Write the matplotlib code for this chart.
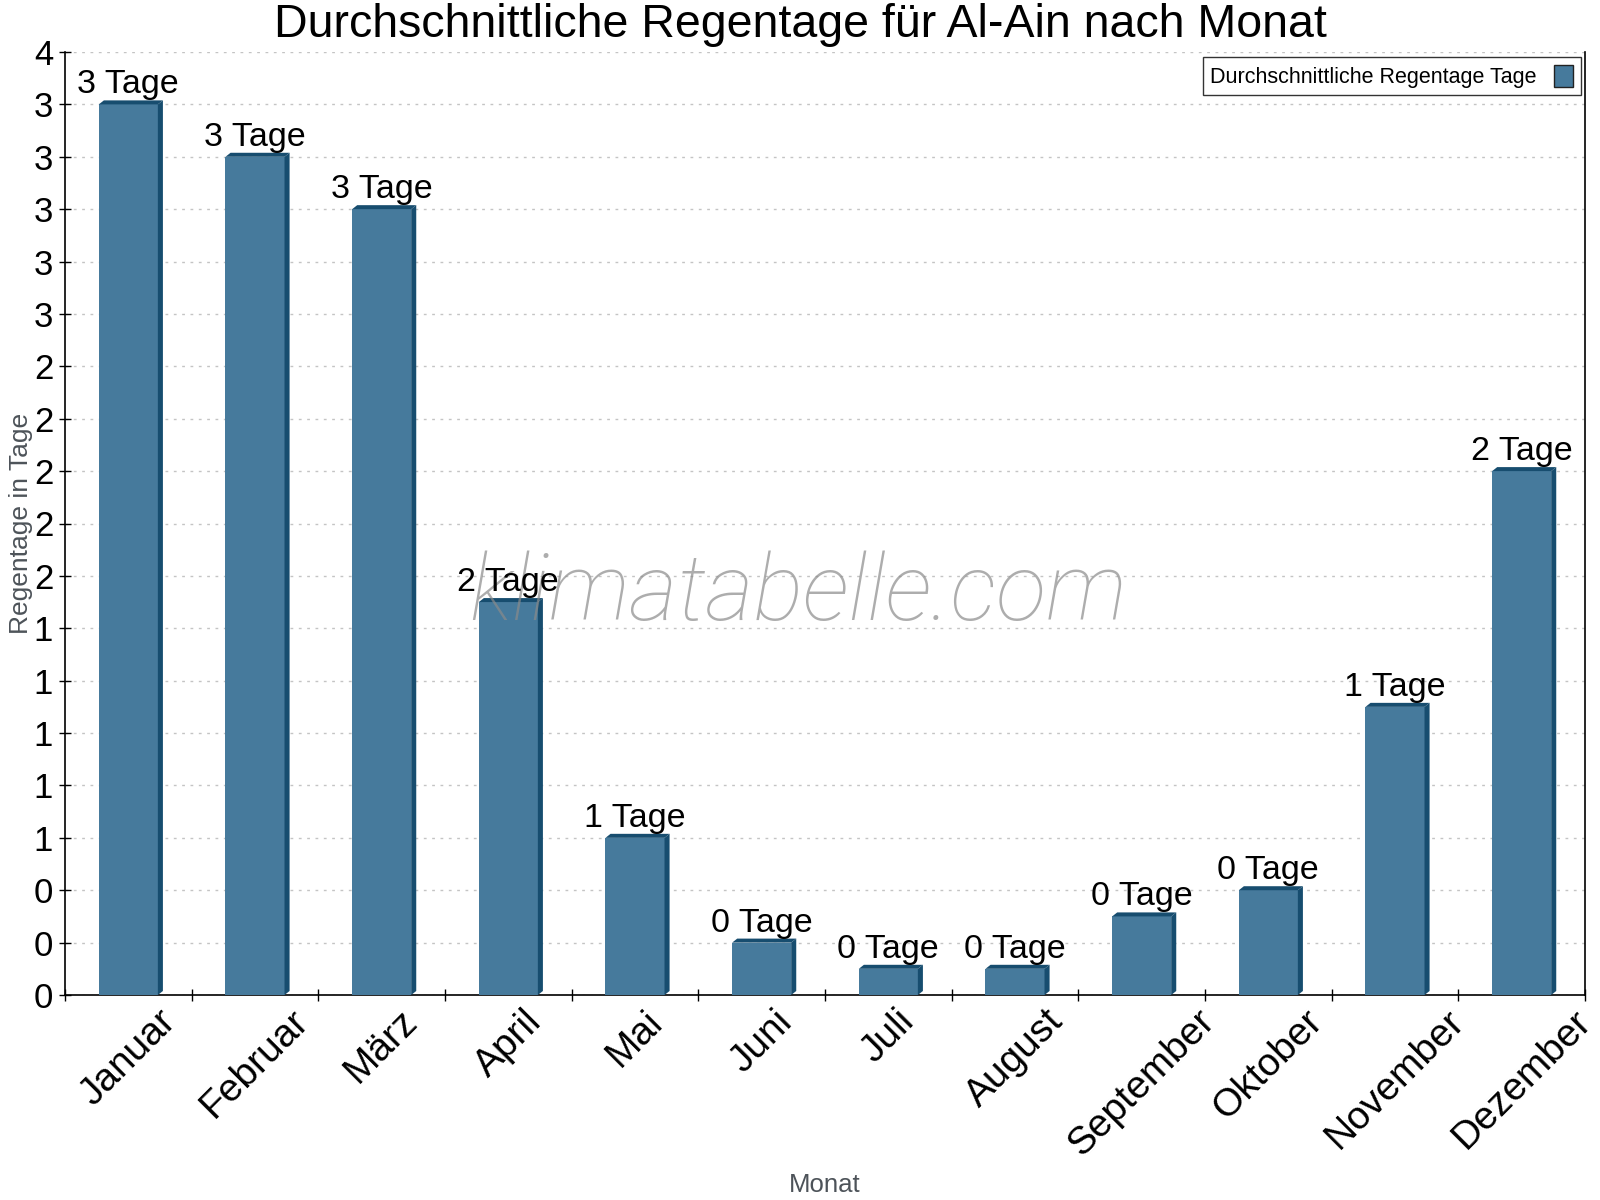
import numpy as np
import matplotlib
matplotlib.use('Agg')
import matplotlib.pyplot as plt
from matplotlib.patches import Polygon
from matplotlib.ticker import MultipleLocator, FuncFormatter

plt.rcParams['font.family'] = ['Liberation Sans', 'DejaVu Sans']

# Daten
monate = ['Januar', 'Februar', 'März', 'April', 'Mai', 'Juni', 'Juli',
          'August', 'September', 'Oktober', 'November', 'Dezember']
regentage = [3.4, 3.2, 3.0, 1.5, 0.6, 0.2, 0.1, 0.1, 0.3, 0.4, 1.1, 2.0]
legend_label = 'Durchschnittliche Regentage Tage'

front_color = '#467a9c'
side_color = '#174d6f'

fig = plt.figure(figsize=(16, 12), dpi=100)
ax = fig.add_axes([65 / 1600, 1 - 995 / 1200, 1520 / 1600, 943 / 1200])

ax.set_xlim(-0.5, len(monate) - 0.5)
ax.set_ylim(0, 3.6)

w = 0.466
dx = 0.04
dy = 0.0153

x = np.arange(len(monate))
bars = ax.bar(x, regentage, width=w, color=front_color, zorder=3, label=legend_label,
              edgecolor='none')

for xi, v in zip(x, regentage):
    x0 = xi - w / 2
    x1 = xi + w / 2
    side = Polygon([(x1, 0), (x1 + dx, dy), (x1 + dx, v + dy), (x1, v)],
                   closed=True, facecolor=side_color, edgecolor='none', zorder=3)
    top = Polygon([(x0, v), (x0 + dx, v + dy), (x1 + dx, v + dy), (x1, v)],
                  closed=True, facecolor=side_color, edgecolor='none', zorder=3)
    ax.add_patch(side)
    ax.add_patch(top)
    ax.annotate(f'{v:.0f} Tage', (xi, v + dy), xytext=(0, 0),
                textcoords='offset points', ha='center', va='bottom',
                fontsize=24.5, color='black', zorder=6)

# Wasserzeichen
ax.text(0.482, 0.424, 'klimatabelle.com', transform=ax.transAxes, ha='center', va='center',
        fontsize=67, color='#8a8a8a', alpha=0.7, family=['Roboto', 'DejaVu Sans'],
        style='italic', weight='light', zorder=5)

# Achsen
ax.yaxis.set_major_locator(MultipleLocator(0.2))
ax.yaxis.set_major_formatter(FuncFormatter(lambda v, p: f'{v:.0f}'))
ax.grid(axis='y', color='#c4c4c4', linestyle=(0, (2, 4)), linewidth=1, zorder=0)
ax.set_axisbelow(True)

ax.set_xticks(x)
ax.set_xticklabels(monate, rotation=45, ha='center', fontsize=28)
ax.set_xticks(np.arange(-0.5, len(monate)), minor=True)
ax.tick_params(axis='x', which='major', length=0, pad=6)
ax.tick_params(axis='x', which='minor', direction='inout', length=9, width=1)
ax.tick_params(axis='y', direction='inout', length=9, width=1, labelsize=25, pad=4)

ax.spines['top'].set_visible(False)
for s in ['left', 'bottom', 'right']:
    ax.spines[s].set_linewidth(1.2)
    ax.spines[s].set_color('black')

ax.set_ylabel('Regentage in Tage', fontsize=19, color='#4d5359')
ax.yaxis.set_label_coords(-32 / 1520, 0.5)
ax.set_xlabel('Monat', fontsize=18.5, color='#4d5359')
ax.xaxis.set_label_coords(0.5, -(1173 - 995) / 943)

fig.text(0.5, 1 - 25 / 1200, 'Durchschnittliche Regentage für Al-Ain nach Monat',
         ha='center', va='center', fontsize=33.5, color='black')

leg = ax.legend(loc='upper right', bbox_to_anchor=(1 - 4 / 1520, 1 - 5 / 943),
                fontsize=15.5, markerfirst=False, frameon=True, fancybox=False,
                handlelength=0.9, handleheight=1.2, borderpad=0.35, handletextpad=0.8,
                borderaxespad=0)
leg.get_frame().set_edgecolor('black')
leg.get_frame().set_linewidth(1)
for h in leg.legend_handles:
    h.set_edgecolor('#222222')
    h.set_linewidth(1)

fig.savefig('out.png', dpi=100)
